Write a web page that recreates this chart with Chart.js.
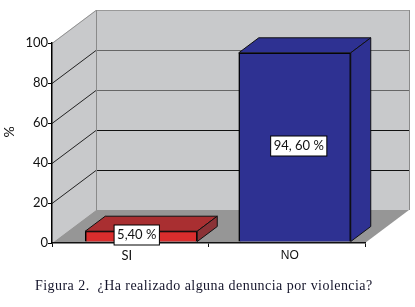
<!DOCTYPE html>
<html>
<head>
<meta charset="utf-8">
<style>
  html, body { margin: 0; padding: 0; background: #fff; }
  #wrap { position: relative; width: 415px; height: 307px; overflow: hidden; }
  #caption {
    position: absolute; left: 35px; top: 278px; white-space: pre;
    font: 14px "Liberation Serif", serif; color: #14142a; letter-spacing: 0.45px;
  }
</style>
<script src="https://cdn.jsdelivr.net/npm/chart.js@4"></script>
</head>
<body>
<div id="wrap">
  <canvas id="denunciaChart" width="415" height="307"></canvas>
  <div id="caption">Figura 2.  ¿Ha realizado alguna denuncia por violencia?</div>
</div>
<script>
const categories = ["SI", "NO"];
const percentValues = [5.4, 94.6];
const valueLabels = ["5,40 %", "94, 60 %"];
const yTicks = [0, 20, 40, 60, 80, 100];
const yAxisTitle = "%";

const frontColors = ["#d92d2d", "#2e3192"];
const topColors = ["#a92f31", "#2e3192"];
const sideColors = ["#8b3236", "#2e3192"];
const gridColors = { 20: "#111", 40: "#111", 60: "#666", 80: "#666", 100: "#999" };

// oblique projection of the box
const wallDx = 44;
const wallDy = -33;
const barDx = 20;
const barDy = -15;
const barShift = [11, 8];
const labelShift = [6.5, 12];
const categoryShift = [-3.5, 3];
const categoryFonts = ['13px Lato', '12px "Liberation Sans"'];

function polygon(ctx, points, fill, stroke) {
  ctx.beginPath();
  points.forEach((p, i) => (i ? ctx.lineTo(p[0], p[1]) : ctx.moveTo(p[0], p[1])));
  ctx.closePath();
  ctx.fillStyle = fill;
  ctx.fill();
  if (stroke) {
    ctx.strokeStyle = stroke;
    ctx.lineWidth = 1;
    ctx.stroke();
  }
}

function line(ctx, x1, y1, x2, y2, color) {
  ctx.beginPath();
  ctx.moveTo(x1, y1);
  ctx.lineTo(x2, y2);
  ctx.strokeStyle = color;
  ctx.lineWidth = 1;
  ctx.stroke();
}

const box3d = {
  id: "box3d",
  afterDatasetsUpdate(chart) {
    chart.getDatasetMeta(0).data.forEach((bar, i) => {
      bar.x += barShift[i];
      bar.y -= 1;
      bar.base -= 1;
    });
  },
  beforeDraw(chart) {
    const { ctx, chartArea: a, scales } = chart;
    const y = scales.y;
    const y0 = y.getPixelForValue(0);
    const y100 = y.getPixelForValue(100);
    ctx.save();
    // walls and floor
    polygon(ctx, [[a.left, y0], [a.left + wallDx, y0 + wallDy], [a.left + wallDx, y100 + wallDy], [a.left, y100]], "#c8c9cb");
    polygon(ctx, [[a.left + wallDx, y0 + wallDy], [a.right + wallDx, y0 + wallDy], [a.right + wallDx, y100 + wallDy], [a.left + wallDx, y100 + wallDy]], "#c8c9cb");
    polygon(ctx, [[a.left, y0], [a.right, y0], [a.right + wallDx, y0 + wallDy], [a.left + wallDx, y0 + wallDy]], "#969696");
    // grid lines bent round the back corner
    yTicks.forEach((v) => {
      if (v === 0) return;
      const py = Math.round(y.getPixelForValue(v)) + 0.5;
      line(ctx, a.left, py, a.left + wallDx, py + wallDy, v === 100 ? "#8f8f8f" : "#222");
      line(ctx, a.left + wallDx, py + wallDy, a.right + wallDx, py + wallDy, gridColors[v]);
    });
    line(ctx, a.left + wallDx + 0.5, y100 + wallDy, a.left + wallDx + 0.5, y0 + wallDy, "#8a8a8a");
    line(ctx, a.right + wallDx + 0.5, y100 + wallDy, a.right + wallDx + 0.5, y0 + wallDy, "#8a8a8a");
    ctx.restore();
  },
  afterDatasetsDraw(chart) {
    const { ctx, scales } = chart;
    ctx.save();
    chart.getDatasetMeta(0).data.forEach((bar, i) => {
      const left = bar.x - bar.width / 2;
      const right = bar.x + bar.width / 2;
      polygon(ctx, [[left, bar.y], [right, bar.y], [right + barDx, bar.y + barDy], [left + barDx, bar.y + barDy]], topColors[i], "#111");
      polygon(ctx, [[right, bar.y], [right + barDx, bar.y + barDy], [right + barDx, bar.base + barDy], [right, bar.base]], sideColors[i], "#111");
    });
    // value labels
    ctx.font = "13px Lato";
    ctx.textAlign = "center";
    ctx.textBaseline = "middle";
    chart.getDatasetMeta(0).data.forEach((bar, i) => {
      const cx = scales.x.getPixelForValue(i) + labelShift[i];
      const cy = Math.round((bar.y + bar.base) / 2) - 1;
      const w = ctx.measureText(valueLabels[i]).width + 6;
      ctx.fillStyle = "#fff";
      ctx.strokeStyle = "#000";
      ctx.lineWidth = 1;
      ctx.fillRect(cx - w / 2, cy - 10, w, 20);
      ctx.strokeRect(cx - w / 2, cy - 10, w, 20);
      ctx.fillStyle = "#111";
      ctx.fillText(valueLabels[i], cx, cy);
    });
    // category labels are not centred on their slots in the picture
    ctx.fillStyle = "#111";
    categories.forEach((label, i) => {
      ctx.font = categoryFonts[i];
      ctx.fillText(label, scales.x.getPixelForValue(i) + categoryShift[i], 256);
    });
    // axis title sits above the axis middle
    ctx.font = "14px Lato";
    ctx.translate(9, 132);
    ctx.rotate(-Math.PI / 2);
    ctx.fillText(yAxisTitle, 0, 0);
    ctx.restore();
  },
};

new Chart(document.getElementById("denunciaChart").getContext("2d"), {
  type: "bar",
  data: {
    labels: categories,
    datasets: [
      {
        data: percentValues,
        backgroundColor: frontColors,
        borderColor: "#000",
        borderWidth: 1.5,
        barThickness: 112,
      },
    ],
  },
  options: {
    responsive: false,
    animation: false,
    layout: { padding: { left: 0, right: 50, top: 43, bottom: 0 } },
    plugins: { legend: { display: false }, tooltip: { enabled: false } },
    scales: {
      x: {
        afterFit(scale) {
          scale.height = 64;
        },
        border: { color: "#111", width: 1.5 },
        grid: { drawOnChartArea: false, color: "#111", tickLength: 4, offset: true },
        ticks: { display: false },
      },
      y: {
        min: 0,
        max: 100,
        afterFit(scale) {
          scale.width = 52;
        },
        afterBuildTicks(scale) {
          scale.ticks = yTicks.map((value) => ({ value }));
        },
        border: { color: "#000", width: 1.5 },
        grid: { drawOnChartArea: false, color: "#000", tickLength: 4 },
        ticks: { color: "#111", font: { family: "Lato", size: 13 }, padding: 0 },
      },
    },
  },
  plugins: [box3d],
});
</script>
</body>
</html>
